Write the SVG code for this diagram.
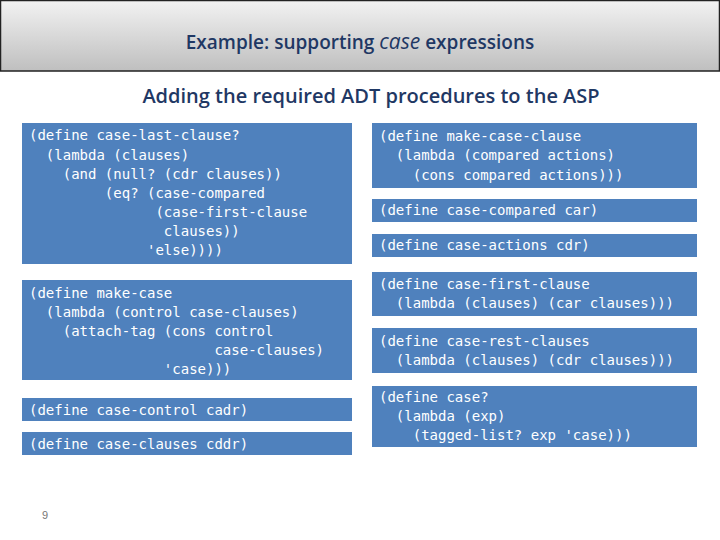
<svg xmlns="http://www.w3.org/2000/svg" width="720" height="540" viewBox="0 0 720 540">
<defs>
<linearGradient id="g" x1="0" y1="0" x2="0" y2="1"><stop offset="0" stop-color="#f2f2f2"/><stop offset="1" stop-color="#bfbfbf"/></linearGradient>
<style>
.b{fill:#4f81bd}
.c{font-family:"DejaVu Sans Mono",monospace;font-size:14px;fill:#fff;white-space:pre}
.h{font-family:"Open Sans","Liberation Sans",sans-serif;font-weight:600;fill:#1f3864;text-anchor:middle}
</style>
</defs>
<rect width="720" height="540" fill="#fff"/>
<rect x="0.5" y="0.5" width="719" height="70.5" fill="url(#g)" stroke="#222" stroke-width="1.5"/>
<text class="h" x="360" y="49" font-size="19">Example: supporting <tspan font-style="italic" font-weight="400" font-size="21">case</tspan> expressions</text>
<text class="h" x="371" y="103" font-size="20" font-weight="700">Adding the required ADT procedures to the ASP</text>
<g id="n1"><rect class="b" x="22" y="123" width="330" height="141"/><text class="c" xml:space="preserve"><tspan x="29" y="140">(define case-last-clause?</tspan><tspan x="29" y="160">  (lambda (clauses)</tspan><tspan x="29" y="179">    (and (null? (cdr clauses))</tspan><tspan x="29" y="198">         (eq? (case-compared</tspan><tspan x="29" y="217">               (case-first-clause</tspan><tspan x="29" y="236">                clauses))</tspan><tspan x="29" y="255">              'else))))</tspan></text></g>
<g id="n2"><rect class="b" x="22" y="280" width="330" height="100"/><text class="c" xml:space="preserve"><tspan x="29" y="298">(define make-case</tspan><tspan x="29" y="317">  (lambda (control case-clauses)</tspan><tspan x="29" y="336">    (attach-tag (cons control</tspan><tspan x="29" y="355">                      case-clauses)</tspan><tspan x="29" y="374">                'case)))</tspan></text></g>
<g id="n3"><rect class="b" x="22" y="398" width="330" height="23"/><text class="c" x="29" y="415">(define case-control cadr)</text></g>
<g id="n4"><rect class="b" x="22" y="432" width="330" height="23"/><text class="c" x="29" y="449">(define case-clauses cddr)</text></g>
<g id="n5"><rect class="b" x="372" y="123" width="325" height="65"/><text class="c" xml:space="preserve"><tspan x="379" y="141">(define make-case-clause</tspan><tspan x="379" y="160">  (lambda (compared actions)</tspan><tspan x="379" y="180">    (cons compared actions)))</tspan></text></g>
<g id="n6"><rect class="b" x="372" y="199" width="325" height="23"/><text class="c" x="379" y="215">(define case-compared car)</text></g>
<g id="n7"><rect class="b" x="372" y="234" width="325" height="23"/><text class="c" x="379" y="250">(define case-actions cdr)</text></g>
<g id="n8"><rect class="b" x="372" y="272" width="325" height="44"/><text class="c" xml:space="preserve"><tspan x="379" y="289">(define case-first-clause</tspan><tspan x="379" y="308">  (lambda (clauses) (car clauses)))</tspan></text></g>
<g id="n9"><rect class="b" x="372" y="328" width="325" height="45"/><text class="c" xml:space="preserve"><tspan x="379" y="346">(define case-rest-clauses</tspan><tspan x="379" y="365">  (lambda (clauses) (cdr clauses)))</tspan></text></g>
<g id="n10"><rect class="b" x="372" y="386" width="325" height="61"/><text class="c" xml:space="preserve"><tspan x="379" y="402">(define case?</tspan><tspan x="379" y="421">  (lambda (exp)</tspan><tspan x="379" y="440">    (tagged-list? exp 'case)))</tspan></text></g>
<g id="connectors"/>
<text x="45" y="519" font-family="Liberation Sans,sans-serif" font-size="11" fill="#777" text-anchor="middle">9</text>
</svg>
